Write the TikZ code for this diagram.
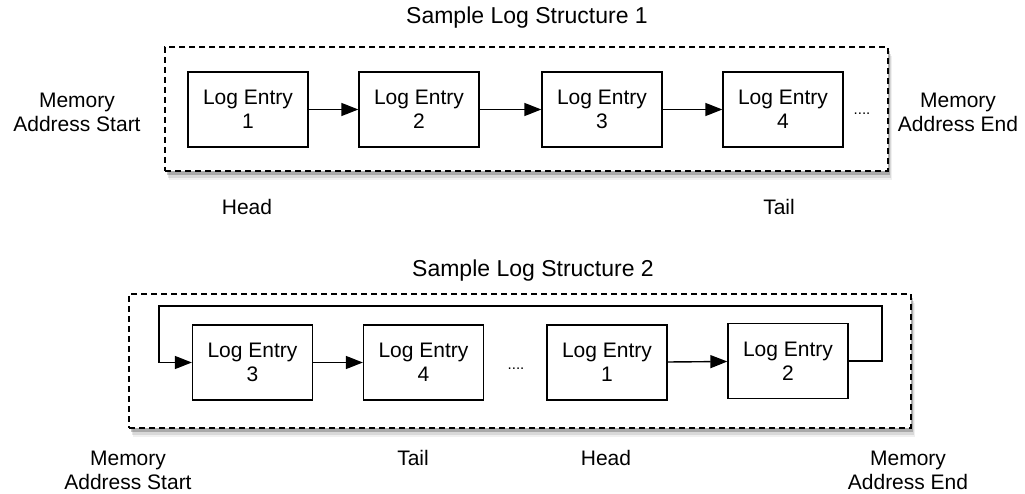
\documentclass[tikz,border=0pt]{standalone}
\usepackage{fontspec}
\setmainfont{Liberation Sans}
\usetikzlibrary{arrows.meta,positioning,shadows}

\begin{document}
\begin{tikzpicture}[x=1pt,y=-1pt,
	entry/.style={rectangle, draw, line width=1.3pt, minimum width=120pt, minimum height=75pt, inner sep=0pt, align=center, font=\fontsize{21}{24}\selectfont},
	comment/.style={rectangle, text centered, align=center, font=\fontsize{21}{24}\selectfont},
	title/.style={rectangle, text centered, font=\fontsize{23}{26}\selectfont},
	frame/.style={rectangle, draw, dash pattern=on 6pt off 4pt, line width=1.4pt, fill=white,
		drop shadow={shadow xshift=4pt, shadow yshift=-9pt, fill=black, opacity=0.06},
		drop shadow={shadow xshift=3pt, shadow yshift=-7pt, fill=black, opacity=0.10},
		drop shadow={shadow xshift=2pt, shadow yshift=-4pt, fill=black, opacity=0.22}},
	link/.style={line width=1.4pt, -{Triangle[length=17pt,width=13pt]}},
	ellip/.style={font=\fontsize{15}{15}\selectfont, anchor=base}]
	\useasboundingbox (0,0) rectangle (1025,494);

	% structure 1
	\node [title] (title1) at (527,18) {Sample Log Structure 1};
	\node [frame, minimum width=723pt, minimum height=124pt] (frame1) at (526.5,109) {};

	\node [entry] (a1) at (248,109.5) {Log Entry\\1};
	\node [entry] (a2) at (419,109.5) {Log Entry\\2};
	\node [entry] (a3) at (602,109.5) {Log Entry\\3};
	\node [entry] (a4) at (783,109.5) {Log Entry\\4};
	\node [ellip] (more1) at (862,115) {....};

	\draw [link] (a1) -- (a2);
	\draw [link] (a2) -- (a3);
	\draw [link] (a3) -- (a4);

	\node [comment] (start1) at (77,112) {Memory\\Address Start};
	\node [comment] (end1) at (958,112) {Memory\\Address End};
	\node [comment] (head1) at (247,207) {Head};
	\node [comment] (tail1) at (779,207) {Tail};

	% structure 2
	\node [title] (title2) at (533,271) {Sample Log Structure 2};
	\node [frame, minimum width=782pt, minimum height=134pt] (frame2) at (520,361) {};

	\node [entry] (b3) at (252.5,362.5) {Log Entry\\3};
	\node [entry] (b4) at (423.5,362.5) {Log Entry\\4};
	\node [ellip] (more2) at (516,369) {....};
	\node [entry] (b1) at (607,362.5) {Log Entry\\1};
	\node [entry] (b2) at (788,361) {Log Entry\\2};

	\draw [link] (b3) -- (b4);
	\draw [link] (b1) -- (b2);

	\coordinate (loopR) at (882,306);
	\coordinate (loopL) at (159,306);
	\draw [link] (b2.east) -| (loopR) -- (loopL) |- (b3.west);

	\node [comment] (start2) at (128,470) {Memory\\Address Start};
	\node [comment] (tail2) at (413,458) {Tail};
	\node [comment] (head2) at (606,458) {Head};
	\node [comment] (end2) at (908,470) {Memory\\Address End};
\end{tikzpicture}
\end{document}
